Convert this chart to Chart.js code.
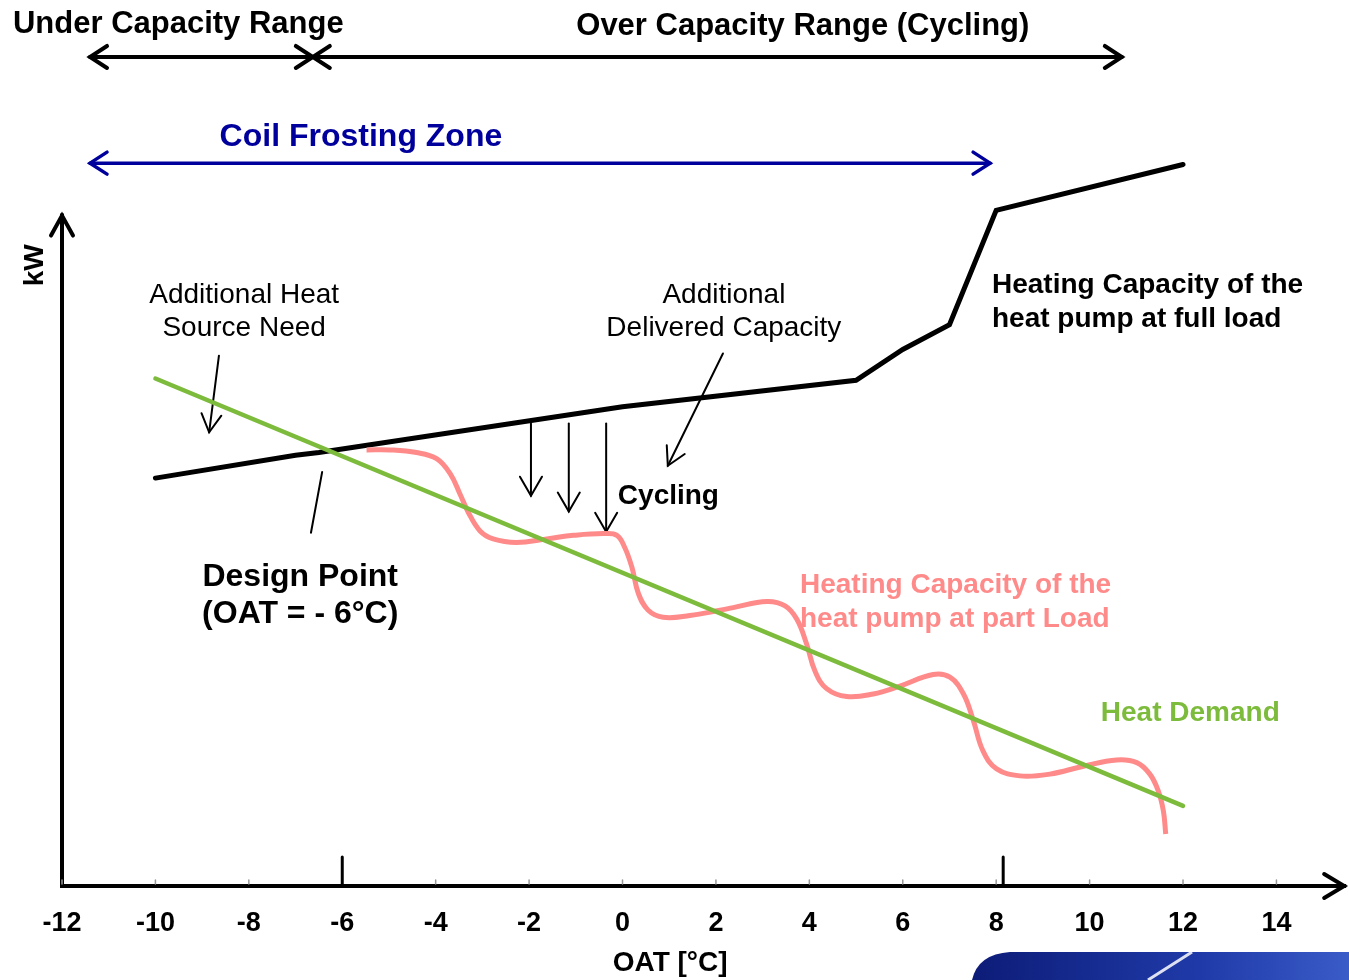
<!DOCTYPE html>
<html>
<head>
<meta charset="utf-8">
<script src="https://cdn.jsdelivr.net/npm/chart.js@4.4.0/dist/chart.umd.min.js"></script>
<style>
  html, body { margin: 0; padding: 0; background: #fff; }
  canvas { display: block; }
</style>
</head>
<body>
<canvas id="graficoCapacidade" width="1349" height="980"></canvas>
<script>
// OAT axis ticks
const xTicks = [-12, -10, -8, -6, -4, -2, 0, 2, 4, 6, 8, 10, 12, 14];

// heating capacity at full load (kW, arbitrary units)
const fullLoadX = [-10, -7, -6.5, 0, 5, 6, 7, 8, 12];
const fullLoadY = [46.3, 48.9, 49.2, 54.4, 57.4, 60.9, 63.7, 76.7, 81.9];

// heat demand
const demandX = [-10, 12];
const demandY = [57.6, 9.1];

// heating capacity at part load (cycling)
const partLoadX = [-5.48, -4.98, -4.41, -3.98, -3.69, -3.48, -3.30, -3.05, -2.77, -2.27, -1.62, -1.05, -0.41, -0.12,
                   0.05, 0.20, 0.34, 0.55, 0.87, 1.44, 2.09, 2.37, 3.09, 3.48, 3.73, 3.94, 4.12, 4.37, 4.80, 5.37,
                   5.94, 6.65, 7.01, 7.30, 7.51, 7.72, 8.01, 8.51, 9.15, 9.87, 10.58, 11.01, 11.29, 11.47, 11.58, 11.63];
const partLoadY = [49.5, 49.5, 49.2, 48.5, 46.8, 44.5, 42.4, 40.3, 39.4, 39.0, 39.4, 39.8, 40.0, 39.8,
                   38.4, 36.2, 33.2, 31.3, 30.5, 30.7, 31.3, 31.6, 32.3, 31.8, 30.3, 27.5, 24.4, 22.4, 21.5, 21.8,
                   22.7, 24.0, 23.7, 21.8, 18.8, 15.3, 13.3, 12.5, 12.7, 13.6, 14.3, 14.0, 12.7, 10.8, 8.5, 5.9];

const pontos = (xs, ys) => xs.map((x, i) => ({ x: x, y: ys[i] }));

const FONTE = "'Liberation Sans', Arial, sans-serif";
const PRETO = '#000000';
const VERDE = '#7dbb3c';
const ROSA = '#ff8a8a';
const AZUL = '#00009c';

function ponta(ctx, tx, ty, fx, fy, len, half) {
    const dx = tx - fx, dy = ty - fy, d = Math.hypot(dx, dy);
    const ux = dx / d, uy = dy / d;
    ctx.beginPath();
    ctx.moveTo(tx - ux * len - uy * half, ty - uy * len + ux * half);
    ctx.lineTo(tx, ty);
    ctx.lineTo(tx - ux * len + uy * half, ty - uy * len - ux * half);
    ctx.stroke();
}

function seta(ctx, x1, y1, x2, y2, opt) {
    ctx.save();
    ctx.strokeStyle = opt.cor || PRETO;
    ctx.lineWidth = opt.largura || 2;
    ctx.lineCap = 'round';
    ctx.lineJoin = 'miter';
    ctx.beginPath();
    ctx.moveTo(x1, y1);
    ctx.lineTo(x2, y2);
    ctx.stroke();
    if (opt.fim) ponta(ctx, x2, y2, x1, y1, opt.len || 18, opt.half || 10);
    if (opt.inicio) ponta(ctx, x1, y1, x2, y2, opt.len || 18, opt.half || 10);
    ctx.restore();
}

function texto(ctx, linhas, x, y, opt) {
    ctx.save();
    ctx.fillStyle = opt.cor || PRETO;
    ctx.font = (opt.peso || 'bold') + ' ' + opt.tam + 'px ' + FONTE;
    ctx.textAlign = opt.alinha || 'left';
    ctx.textBaseline = 'middle';
    linhas.forEach((l, i) => ctx.fillText(l, x, y + i * (opt.entre || 0)));
    ctx.restore();
}

const decoracao = {
    id: 'decoracao',
    beforeDatasetsDraw(chart) {
        const ctx = chart.ctx;
        const X = v => chart.scales.x.getPixelForValue(v);
        const Y = v => chart.scales.y.getPixelForValue(v);

        // axes
        ctx.save();
        ctx.strokeStyle = PRETO;
        ctx.lineWidth = 4;
        ctx.lineCap = 'square';
        ctx.beginPath();
        ctx.moveTo(X(-12), Y(76.1));
        ctx.lineTo(X(-12), Y(0));
        ctx.lineTo(X(15.45), Y(0));
        ctx.stroke();
        ctx.lineCap = 'round';
        ponta(ctx, X(-12), Y(76.1), X(-12), Y(0), 20, 11);
        ponta(ctx, X(15.45), Y(0), X(-12), Y(0), 20, 12);
        // minor tick marks
        ctx.strokeStyle = '#999';
        ctx.lineWidth = 1.5;
        xTicks.forEach(v => {
            ctx.beginPath();
            ctx.moveTo(X(v), Y(0) - 6);
            ctx.lineTo(X(v), Y(0) - 2);
            ctx.stroke();
        });
        // design / switch markers
        ctx.strokeStyle = PRETO;
        ctx.lineWidth = 3;
        [-6, 8.15].forEach(v => {
            ctx.beginPath();
            ctx.moveTo(X(v), Y(0));
            ctx.lineTo(X(v), Y(3.3));
            ctx.stroke();
        });
        ctx.restore();

        // range arrows on top
        seta(ctx, X(-11.4), Y(94.1), X(-6.63), Y(94.1), { largura: 4, inicio: true, fim: true, len: 17, half: 11 });
        seta(ctx, X(-6.63), Y(94.1), X(10.69), Y(94.1), { largura: 4, inicio: true, fim: true, len: 17, half: 11 });
        seta(ctx, X(-11.4), Y(82.05), X(7.87), Y(82.05), { largura: 3.5, cor: AZUL, inicio: true, fim: true, len: 17, half: 11 });

        // callout arrows
        seta(ctx, X(-8.64), Y(60.2), X(-8.85), Y(51.5), { largura: 2, fim: true, len: 18, half: 10 });
        seta(ctx, X(-6.43), Y(47.0), X(-6.67), Y(40.1), { largura: 2 });
        seta(ctx, X(2.15), Y(60.45), X(0.97), Y(47.7), { largura: 2, fim: true, len: 18, half: 10 });
        seta(ctx, X(-1.96), Y(52.5), X(-1.96), Y(44.3), { largura: 2, fim: true, len: 19, half: 11 });
        seta(ctx, X(-1.15), Y(52.5), X(-1.15), Y(42.5), { largura: 2, fim: true, len: 19, half: 11 });
        seta(ctx, X(-0.35), Y(52.5), X(-0.35), Y(40.2), { largura: 2, fim: true, len: 19, half: 11 });

        // labels
        texto(ctx, ['Under Capacity Range'], X(-13.05), Y(97.8), { tam: 31 });
        texto(ctx, ['Over Capacity Range (Cycling)'], X(3.86), Y(97.6), { tam: 31, alinha: 'center' });
        texto(ctx, ['Coil Frosting Zone'], X(-5.6), Y(85.0), { tam: 32, alinha: 'center', cor: AZUL });
        texto(ctx, ['Additional Heat', 'Source Need'], X(-8.1), Y(67.0), { tam: 28, peso: 'normal', alinha: 'center', entre: 33 });
        texto(ctx, ['Additional', 'Delivered Capacity'], X(2.17), Y(67.0), { tam: 28, peso: 'normal', alinha: 'center', entre: 33 });
        texto(ctx, ['Heating Capacity of the', 'heat pump at full load'], X(7.91), Y(68.2), { tam: 28, entre: 34 });
        texto(ctx, ['Cycling'], X(-0.1), Y(44.2), { tam: 28 });
        texto(ctx, ['Design Point', '(OAT = - 6°C)'], X(-6.9), Y(35.0), { tam: 32, alinha: 'center', entre: 37 });
        texto(ctx, ['Heating Capacity of the', 'heat pump at part Load'], X(3.8), Y(34.1), { tam: 28, cor: ROSA, entre: 34 });
        texto(ctx, ['Heat Demand'], X(10.24), Y(19.6), { tam: 28, cor: VERDE });
        texto(ctx, ['OAT [°C]'], X(1.02), Y(-8.8), { tam: 28, alinha: 'center' });

        ctx.save();
        ctx.translate(X(-12.58), Y(70.45));
        ctx.rotate(-Math.PI / 2);
        texto(ctx, ['kW'], 0, 0, { tam: 28, alinha: 'center' });
        ctx.restore();

        // logo fragment, bottom right
        ctx.save();
        const g = ctx.createLinearGradient(975, 0, 1349, 0);
        g.addColorStop(0, '#0d1c78');
        g.addColorStop(0.6, '#1f3aa8');
        g.addColorStop(1, '#3a5cc8');
        ctx.fillStyle = g;
        ctx.beginPath();
        ctx.moveTo(972, 980);
        ctx.quadraticCurveTo(978, 954, 1010, 952);
        ctx.lineTo(1349, 952);
        ctx.lineTo(1349, 980);
        ctx.closePath();
        ctx.fill();
        ctx.strokeStyle = 'rgba(255,255,255,0.85)';
        ctx.lineWidth = 3;
        ctx.beginPath();
        ctx.moveTo(1148, 980);
        ctx.lineTo(1192, 952);
        ctx.stroke();
        ctx.restore();
    }
};

const ctx = document.getElementById('graficoCapacidade').getContext('2d');

new Chart(ctx, {
    type: 'line',
    data: {
        datasets: [
            {
                label: 'Heat Demand',
                data: pontos(demandX, demandY),
                borderColor: VERDE,
                borderWidth: 4.5,
                pointRadius: 0,
                tension: 0,
                borderCapStyle: 'round',
                order: 0
            },
            {
                label: 'Heating Capacity of the heat pump at part Load',
                data: pontos(partLoadX, partLoadY),
                borderColor: ROSA,
                borderWidth: 5,
                pointRadius: 0,
                tension: 0.4,
                borderCapStyle: 'butt',
                order: 1
            },
            {
                label: 'Heating Capacity of the heat pump at full load',
                data: pontos(fullLoadX, fullLoadY),
                borderColor: PRETO,
                borderWidth: 5,
                pointRadius: 0,
                tension: 0,
                borderCapStyle: 'round',
                borderJoinStyle: 'miter',
                order: 2
            }
        ]
    },
    options: {
        responsive: false,
        animation: false,
        layout: {
            padding: { left: 62, right: 2.5, top: 5, bottom: 19.6 }
        },
        scales: {
            x: {
                type: 'linear',
                min: -12,
                max: 15.5,
                afterBuildTicks: scale => { scale.ticks = xTicks.map(v => ({ value: v })); },
                ticks: {
                    color: PRETO,
                    padding: 21,
                    maxRotation: 0,
                    autoSkip: false,
                    font: { size: 27, weight: 'bold', family: FONTE }
                },
                grid: { display: false, drawTicks: false },
                border: { display: false }
            },
            y: {
                display: false,
                min: 0,
                max: 100
            }
        },
        plugins: {
            legend: { display: false },
            tooltip: { enabled: false }
        }
    },
    plugins: [decoracao]
});
</script>
</body>
</html>
